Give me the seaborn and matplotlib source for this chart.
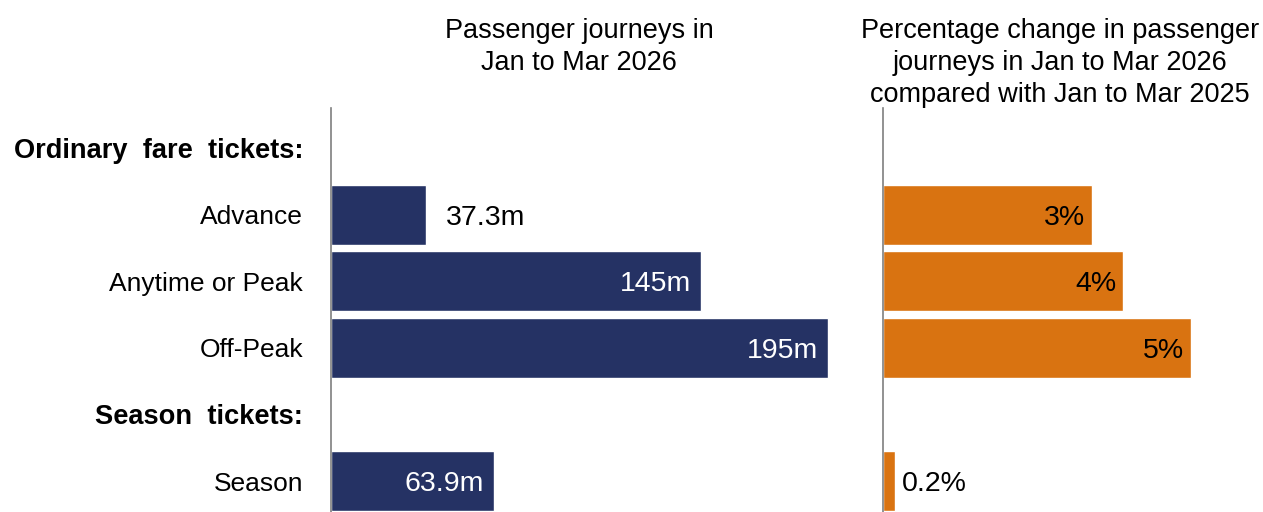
import seaborn as sns
import matplotlib.pyplot as plt
import pandas as pd

# row order, including the two group headers (no bars)
rows = ["Ordinary  fare  tickets:", "Advance", "Anytime or Peak", "Off-Peak",
        "Season  tickets:", "Season"]
headers = ["Ordinary  fare  tickets:", "Season  tickets:"]

tickets = ["Advance", "Anytime or Peak", "Off-Peak", "Season"]
journeys = [37.3, 145, 195, 63.9]          # millions
journey_labels = ["37.3m", "145m", "195m", "63.9m"]
pct_change = [3.4, 3.9, 5.0, 0.2]          # % vs Jan to Mar 2025
pct_labels = ["3%", "4%", "5%", "0.2%"]

df = pd.DataFrame({"ticket": tickets, "journeys": journeys, "pct": pct_change})

navy = "#253264"
orange = "#D97311"

sns.set_theme(style="white")
plt.rcParams["font.family"] = ["Liberation Sans", "DejaVu Sans"]
plt.rcParams["text.color"] = "black"

fig = plt.figure(figsize=(12.63, 5.12), dpi=100)
ax1 = fig.add_axes([331 / 1263, 0, 500 / 1263, 404 / 512])
ax2 = fig.add_axes([883 / 1263, 0, 380 / 1263, 404 / 512])

sns.barplot(data=df, x="journeys", y="ticket", order=rows, color=navy,
            width=0.9, saturation=1, ax=ax1)
sns.barplot(data=df, x="pct", y="ticket", order=rows, color=orange,
            width=0.9, saturation=1, ax=ax2)

ax1.set_xlim(0, 196.2)
ax2.set_xlim(0, 6.17)
for ax in (ax1, ax2):
    ax.set_ylim(5.465, -0.6)
    ax.set_xlabel("")
    ax.set_ylabel("")
    ax.set_xticks([])
    for s in ("top", "right", "bottom"):
        ax.spines[s].set_visible(False)
    ax.spines["left"].set_color("#7f7f7f")
    ax.spines["left"].set_linewidth(1.2)
    ax.tick_params(axis="y", length=0)

ax1.tick_params(axis="y", labelsize=19, pad=20, labelcolor="black")
for lab in ax1.get_yticklabels():
    if lab.get_text() in headers:
        lab.set_fontweight("bold")
        lab.set_fontsize(19.6)
ax2.set_yticklabels([])

# value labels
for t, v, lab in zip(tickets, journeys, journey_labels):
    y = rows.index(t)
    if v < 50:
        ax1.annotate(lab, (v, y), xytext=(14, 0), textcoords="offset points",
                     ha="left", va="center_baseline", fontsize=20.5, color="black")
    else:
        ax1.annotate(lab, (v, y), xytext=(-7, 0), textcoords="offset points",
                     ha="right", va="center_baseline", fontsize=20.5, color="white")

for t, v, lab in zip(tickets, pct_change, pct_labels):
    y = rows.index(t)
    if v < 1:
        ax2.annotate(lab, (v, y), xytext=(5, 0), textcoords="offset points",
                     ha="left", va="center_baseline", fontsize=20.5, color="black")
    else:
        ax2.annotate(lab, (v, y), xytext=(-5, 0), textcoords="offset points",
                     ha="right", va="center_baseline", fontsize=20.5, color="black")

fig.text(579 / 1263, 1 - 18 / 512, "Passenger journeys in\nJan to Mar 2026",
         ha="center", va="top", fontsize=19.5, linespacing=1.3, color="black")
fig.text(1060 / 1263, 1 - 18 / 512,
         "Percentage change in passenger\njourneys in Jan to Mar 2026\ncompared with Jan to Mar 2025",
         ha="center", va="top", fontsize=19.5, linespacing=1.3, color="black")

fig.savefig("out.png", dpi=100, facecolor="white")
